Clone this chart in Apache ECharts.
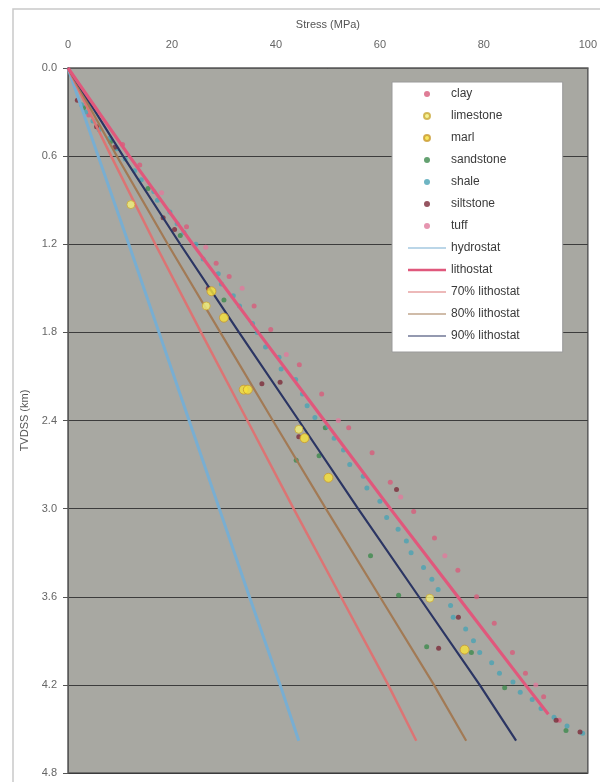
<!DOCTYPE html>
<html><head><meta charset="utf-8">
<script src="https://cdn.jsdelivr.net/npm/echarts@6/dist/echarts.min.js"></script>
<style>html,body{margin:0;padding:0;background:#fff}#c{width:600px;height:782px}</style>
</head><body><div id="c"></div><script>
// ---- data (stress MPa, depth km) ----
const xTicks = [0, 20, 40, 60, 80, 100];
const yTicks = [0.0, 0.6, 1.2, 1.8, 2.4, 3.0, 3.6, 4.2, 4.8];

const clay = [[4.0,0.32],[10.5,0.52],[13.8,0.66],[22.8,1.08],[28.5,1.33],[31.0,1.42],[35.8,1.62],[39.0,1.78],[44.5,2.02],[48.8,2.22],[54.0,2.45],[58.5,2.62],[62.0,2.82],[66.5,3.02],[70.5,3.20],[75.0,3.42],[78.6,3.60],[82.0,3.78],[85.5,3.98],[88.0,4.12],[91.5,4.28],[94.5,4.44]];
const limestone = [[12.1,0.93],[26.6,1.62],[44.4,2.46],[69.6,3.61]];
const marl = [[27.6,1.52],[30.0,1.70],[33.8,2.19],[34.6,2.19],[45.5,2.52],[50.1,2.79],[76.3,3.96]];
const sandstone = [[3.0,0.27],[8.2,0.50],[15.4,0.82],[21.6,1.14],[30.0,1.58],[43.9,2.67],[48.3,2.64],[49.5,2.45],[58.2,3.32],[63.6,3.59],[69.0,3.94],[77.6,3.98],[84.0,4.22],[95.8,4.51]];
const shale = [[2.6,0.25],[3.4,0.30],[4.8,0.36],[6.0,0.42],[7.9,0.48],[9.4,0.55],[11.0,0.62],[12.8,0.70],[14.1,0.76],[16.5,0.84],[17.2,0.90],[19.6,0.98],[21.0,1.06],[22.3,1.12],[24.6,1.20],[26.0,1.30],[28.9,1.40],[29.5,1.47],[31.8,1.55],[33.0,1.62],[35.5,1.74],[36.4,1.80],[38.0,1.90],[40.6,1.97],[41.0,2.05],[43.8,2.12],[45.1,2.22],[46.0,2.30],[47.5,2.38],[50.0,2.44],[51.2,2.52],[53.0,2.60],[54.2,2.70],[56.8,2.78],[57.5,2.86],[60.0,2.95],[61.3,3.06],[63.5,3.14],[65.1,3.22],[66.0,3.30],[68.4,3.40],[70.0,3.48],[71.2,3.55],[73.6,3.66],[74.1,3.74],[76.5,3.82],[78.0,3.90],[79.2,3.98],[81.5,4.05],[83.0,4.12],[85.6,4.18],[87.0,4.25],[89.3,4.30],[91.0,4.36],[93.5,4.42],[96.0,4.48],[99.0,4.53]];
const siltstone = [[1.8,0.22],[5.5,0.40],[9.0,0.54],[18.3,1.02],[20.5,1.10],[27.0,1.50],[37.3,2.15],[40.8,2.14],[44.4,2.51],[63.2,2.87],[71.3,3.95],[75.1,3.74],[93.9,4.44],[98.5,4.52]];
const tuff = [[18.0,0.85],[26.5,1.22],[33.5,1.50],[42.0,1.95],[52.0,2.40],[64.0,2.92],[72.5,3.32],[90.0,4.20]];

const lineDepth = [0, 0.6, 1.2, 1.8, 2.4, 3.0, 3.6, 4.2, 4.58];
const lithDepth = [0, 0.6, 1.2, 1.8, 2.4, 3.0, 3.6, 4.2, 4.40];
const hydrostat = [0, 5.8, 11.7, 17.5, 23.3, 29.1, 34.9, 40.8, 44.4];
const lithostat = [0, 11.8, 24.0, 36.6, 49.3, 62.0, 75.0, 88.0, 92.4];
const litho70 = [0, 8.3, 16.8, 25.6, 34.5, 43.4, 52.5, 61.6, 67.0];
const litho80 = [0, 9.4, 19.2, 29.3, 39.4, 49.6, 60.0, 70.4, 76.6];
const litho90 = [0, 10.6, 21.6, 32.9, 44.4, 55.8, 67.5, 79.2, 86.2];

const FONT = '"Liberation Sans", Arial, sans-serif';
const pair = (xs, ds) => xs.map((v, i) => [v, ds[i]]);

const chart = echarts.init(document.getElementById('c'), null, {renderer: 'canvas'});

function sc(name, data, color, size, extra) {
  return Object.assign({
    name, type: 'scatter', data, symbol: 'circle', symbolSize: size,
    itemStyle: {color}, z: 2
  }, extra || {});
}
function ln(name, data, color, width) {
  return {
    name, type: 'line', data, showSymbol: false, symbol: 'none',
    lineStyle: {color, width}, itemStyle: {color}, z: 3, animation: false
  };
}
const thin = 'path://M0,0H38V1.2H0Z';
const thick = 'path://M0,0H38V2.6H0Z';

chart.setOption({
  animation: false,
  backgroundColor: '#ffffff',
  graphic: [{
    type: 'rect', silent: true, z: -10,
    shape: {x: 13, y: 9, width: 640, height: 820},
    style: {fill: 'none', stroke: '#c9c9c9', lineWidth: 1.5}
  }],
  grid: {
    left: 68, right: 10, top: 68, bottom: 9, show: true,
    backgroundColor: '#a8a8a2', borderColor: '#5a5a5a', borderWidth: 1.5
  },
  xAxis: {
    type: 'value', position: 'top', min: xTicks[0], max: xTicks[xTicks.length - 1], interval: 20,
    name: 'Stress (MPa)', nameLocation: 'middle', nameGap: 38,
    nameTextStyle: {color: '#555', fontSize: 11, fontFamily: FONT},
    axisLine: {show: true, lineStyle: {color: '#5a5a5a'}},
    axisTick: {show: false},
    axisLabel: {color: '#666', fontSize: 11, fontFamily: FONT, margin: 18},
    splitLine: {show: false}
  },
  yAxis: {
    type: 'value', inverse: true, min: yTicks[0], max: yTicks[yTicks.length - 1], interval: 0.6,
    name: 'TVDSS (km)', nameLocation: 'middle', nameGap: 33,
    nameTextStyle: {color: '#555', fontSize: 11, fontFamily: FONT},
    axisLine: {show: true, lineStyle: {color: '#5a5a5a'}},
    axisTick: {show: true, length: 5, lineStyle: {color: '#555'}},
    axisLabel: {color: '#666', fontSize: 11, fontFamily: FONT, margin: 11,
      formatter: v => v.toFixed(1)},
    splitLine: {show: true, lineStyle: {color: '#3c3c3c', width: 1.2}}
  },
  legend: {
    orient: 'vertical', left: 392, top: 82,
    backgroundColor: '#ffffff', borderColor: '#9a9a9a', borderWidth: 1,
    padding: [5, 43, 9, 16], itemWidth: 38, itemHeight: 6, itemGap: 8,
    textStyle: {color: '#3a3a3a', fontSize: 12, fontFamily: FONT, lineHeight: 14},
    data: ['clay','limestone','marl','sandstone','shale','siltstone','tuff',
      {name: 'hydrostat', icon: thin},
      {name: 'lithostat', icon: thick},
      {name: '70% lithostat', icon: thin},
      {name: '80% lithostat', icon: thin},
      {name: '90% lithostat', icon: thin}]
  },
  series: [
    sc('clay', clay, '#d75c7c', 5),
    sc('sandstone', sandstone, '#3d8a4e', 5),
    sc('shale', shale, '#4aa3b4', 5),
    sc('siltstone', siltstone, '#7c2a3a', 5),
    sc('tuff', tuff, '#e07a9c', 5),
    ln('hydrostat', pair(hydrostat, lineDepth), '#78aed2', 3),
    ln('70% lithostat', pair(litho70, lineDepth), '#dc7474', 2.5),
    ln('80% lithostat', pair(litho80, lineDepth), '#a27a55', 2.2),
    ln('90% lithostat', pair(litho90, lineDepth), '#2b3563', 2.2),
    ln('lithostat', pair(lithostat, lithDepth), '#e0587c', 3.2),
    sc('limestone', limestone, '#f3f07a', 8, {z: 4, itemStyle: {color: '#f3f07a', borderColor: '#c9a838', borderWidth: 1}}),
    sc('marl', marl, '#f7e23a', 9, {z: 4, itemStyle: {color: '#f7e23a', borderColor: '#c99a30', borderWidth: 1}})
  ]
});
</script></body></html>
